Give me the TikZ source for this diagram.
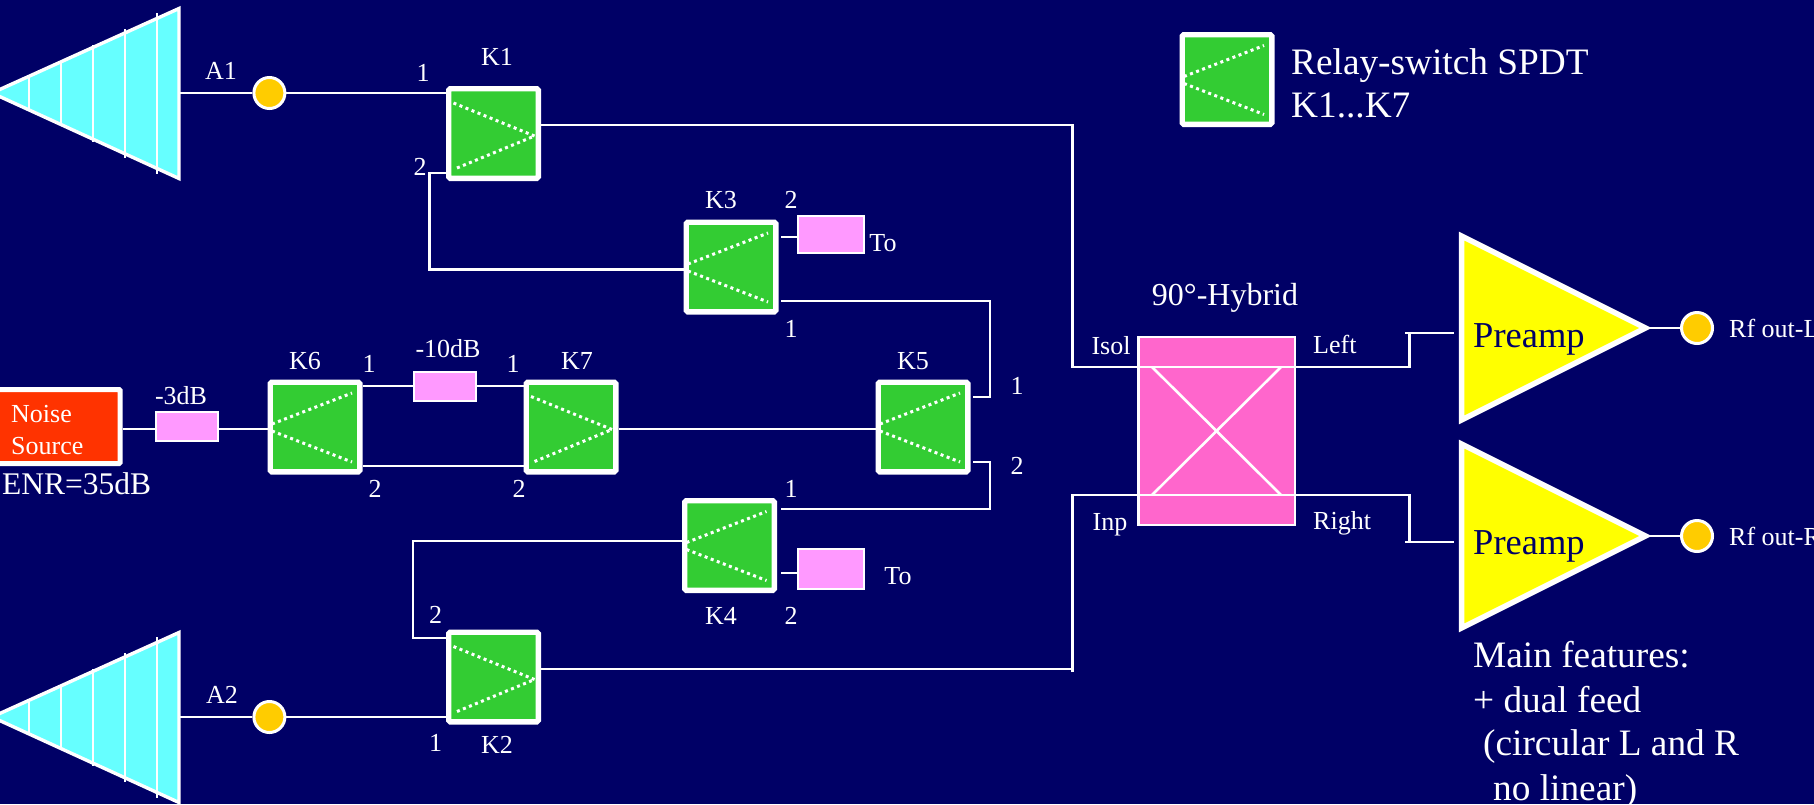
\documentclass[tikz,border=0pt]{standalone}
\usepackage{fontspec}
\setmainfont{Liberation Serif}
\usetikzlibrary{calc}
\definecolor{bgnavy}{RGB}{0,0,102}
\definecolor{swgreen}{RGB}{51,204,51}
\definecolor{attpink}{RGB}{255,153,255}
\definecolor{hybpink}{RGB}{255,102,204}
\definecolor{horncyan}{RGB}{102,255,255}
\definecolor{portgold}{RGB}{255,204,0}
\definecolor{noisered}{RGB}{255,51,0}
\definecolor{ampyellow}{RGB}{255,255,0}
\newcommand{\fsS}{\fontsize{26}{30}\selectfont}
\newcommand{\fsM}{\fontsize{31.5}{36}\selectfont}
\newcommand{\fsH}{\fontsize{32}{40}\selectfont}
\newcommand{\fsP}{\fontsize{36.5}{43}\selectfont}
\newcommand{\fsL}{\fontsize{37.3}{44}\selectfont}
% relay switch: name, centre
\newcommand{\swleft}[2]{%
  \node[relaybox] (#1) at (#2) {};
  \draw[relaydots] ($(#1.center)+(-43,-3)$) -- ($(#1.center)+(37,-34)$);
  \draw[relaydots] ($(#1.center)+(-43,4)$) -- ($(#1.center)+(37,35)$);
}
\newcommand{\swright}[2]{%
  \node[relaybox] (#1) at (#2) {};
  \draw[relaydots] ($(#1.center)+(-40,-30.5)$) -- ($(#1.center)+(41,2.5)$);
  \draw[relaydots] ($(#1.center)+(-36.5,34.5)$) -- ($(#1.center)+(41,2.5)$);
}
% horn antenna: vertical offset
\newcommand{\horn}[1]{%
  \begin{scope}[yshift=-#1pt]
    \draw[hornline,fill=horncyan,line join=miter] (-8,93) -- (179,8.5) -- (179,178.5) -- cycle;
    \draw[hornrib] (29,76) -- (29,110);
    \draw[hornrib] (61,62) -- (61,126);
    \draw[hornrib] (93,45) -- (93,142);
    \draw[hornrib] (125,29) -- (125,158);
    \draw[hornrib] (157,13) -- (157,174);
  \end{scope}
}
\tikzset{
  x=1pt,y=-1pt,
  wire/.style={draw=white,line width=2.6pt,line cap=butt,line join=miter},
  relaybox/.style={draw=white,fill=swgreen,line width=5.4pt,minimum size=89.6pt,inner sep=0pt,rounded corners=1.5pt},
  relaydots/.style={white,line width=3pt,dash pattern=on 3pt off 3.5pt},
  attbox/.style={draw=white,fill=attpink,line width=2.6pt,inner sep=0pt},
  port/.style={circle,draw=white,fill=portgold,line width=3pt,minimum size=31pt,inner sep=0pt},
  hornline/.style={draw=white,line width=3.4pt},
  hornrib/.style={white,line width=2.6pt},
  amp/.style={draw=white,fill=ampyellow,line width=5.5pt,line join=miter},
  lab/.style={text=white,anchor=base,inner sep=0pt,font=\fsS},
  labl/.style={text=white,anchor=base west,inner sep=0pt,font=\fsS},
}
\begin{document}
\begin{tikzpicture}
\useasboundingbox (0,0) rectangle (1814,804);
\clip (0,0) rectangle (1814,804);
\fill[bgnavy] (0,0) rectangle (1814,804);

% antennas
\horn{0}
\horn{624}
\coordinate (h1) at (180,93);
\coordinate (h2) at (180,717);

% ports
\node[port] (c1) at (269.4,93) {};
\node[port] (c2) at (269.4,717) {};

% relay switches
\swright{k1}{493.5,133.5}
\swright{k2}{493.5,677}
\swleft{k3}{731,267}
\swleft{k4}{729.5,545.5}
\swleft{k5}{923,427}
\swleft{k6}{315,427}
\swright{k7}{571,427}
\swleft{kleg}{1227,79.5}

% attenuators
\node[attbox,minimum width=62pt,minimum height=29pt] (a3) at (187,426.5) {};
\node[attbox,minimum width=62pt,minimum height=29pt] (a10) at (445,386.5) {};
\node[attbox,minimum width=66pt,minimum height=37pt] (to1) at (831,234.5) {};
\node[attbox,minimum width=66pt,minimum height=40pt] (to2) at (831,569) {};

% noise source
\node[draw=white,fill=noisered,line width=5pt,minimum width=124pt,minimum height=74pt,inner sep=0pt,rounded corners=1pt] (ns) at (58,426.5) {};
\node[labl] (nst1) at (11,422) {Noise};
\node[labl] (nst2) at (11,454) {Source};

% hybrid
\node[draw=white,fill=hybpink,line width=2.6pt,minimum width=156.5pt,minimum height=188pt,inner sep=0pt] (hyb) at (1216.8,431) {};
\coordinate (xa) at (1152,367);
\coordinate (xb) at (1281,367);
\coordinate (xc) at (1152,495);
\coordinate (xd) at (1281,495);
\draw[wire] (xa) -- (xd);
\draw[wire] (xb) -- (xc);

% preamps
\draw[amp] (1461.5,236) coordinate (p1t) -- (1645.5,328) coordinate (p1o) -- (1461.5,420) -- cycle;
\draw[amp] (1461.5,444) coordinate (p2t) -- (1645.5,536) coordinate (p2o) -- (1461.5,628) -- cycle;
\node[text=bgnavy,anchor=base west,inner sep=0pt,font=\fsP] (p1l) at (1473,347) {Preamp};
\node[text=bgnavy,anchor=base west,inner sep=0pt,font=\fsP] (p2l) at (1473,554) {Preamp};
\node[port] (c3) at (1697,328) {};
\node[port] (c4) at (1697,536) {};

% wire junction points
\coordinate (j1a) at (1072.5,125);
\coordinate (j1b) at (1072.5,367);
\coordinate (j2a) at (1072.5,672);
\coordinate (j2b) at (1072.5,495);
\coordinate (k1s) at (446,173);
\coordinate (k1k) at (429.5,173);
\coordinate (k1m) at (429.5,269.5);
\coordinate (k2s) at (446,638);
\coordinate (k2k) at (413,638);
\coordinate (k3a) at (781,301);
\coordinate (k3s) at (781,237);
\coordinate (k4a) at (781,509);
\coordinate (k4s) at (781,573);
\coordinate (k5a) at (973,397);
\coordinate (k5b) at (973,462);
\coordinate (k3k) at (990,301);
\coordinate (k5k) at (990,397);
\coordinate (k5l) at (990,462);
\coordinate (k4k) at (990,509);
\coordinate (lo) at (1409.5,367);
\coordinate (lu) at (1409.5,333);
\coordinate (ls) at (1405,333);
\coordinate (le) at (1454,333);
\coordinate (ro) at (1409.5,495);
\coordinate (ru) at (1409.5,542);
\coordinate (rs) at (1405,542);
\coordinate (re) at (1454,542);

% connectors
\draw[wire] (h1) -- (c1);
\draw[wire] (c1) -- (k1.west |- c1);
\draw[wire] (h2) -- (c2);
\draw[wire] (c2) -- (k2.west |- c2);
\draw[wire] (k1.east |- j1a) -- (j1a) -- (j1b) -- (lo) -- (lu);
\draw[wire] (ls) -- (le);
\draw[wire] (k2.east |- 0,669) -- (j2a |- 0,669);
\draw[wire] (j2a) -- (j2b) -- (ro) -- (ru);
\draw[wire] (rs) -- (re);
\draw[wire] (k1s) -- (k1k) -- (k1m) -- (k3.west |- k1m);
\draw[wire] (k2s) -- (k2k) -- (k2k |- 0,541) -- (k4.west |- 0,541);
\draw[wire] (k3s) -- (to1.west |- k3s);
\draw[wire] (k4s) -- (to2.west |- k4s);
\draw[wire] (k3a) -- (k3k) -- (k5k) -- (k5a);
\draw[wire] (k5b) -- (k5l) -- (k4k) -- (k4a);
\draw[wire] (ns.east |- 0,429) -- (a3.west |- 0,429);
\draw[wire] (a3.east |- 0,429) -- (k6.west |- 0,429);
\draw[wire] (k6.east |- 0,386) -- (a10.west |- 0,386);
\draw[wire] (a10.east |- 0,386) -- (k7.west |- 0,386);
\draw[wire] (k6.east |- 0,466) -- (k7.west |- 0,466);
\draw[wire] (k7.east |- 0,429) -- (k5.west |- 0,429);
\draw[wire] (p1o) -- (c3);
\draw[wire] (p2o) -- (c4);

% labels
\node[lab] (la1) at (221,79) {A1};
\node[lab] (la2) at (222,703) {A2};
\node[lab] (lk1) at (497,65) {K1};
\node[lab] (lk1a) at (423,81) {1};
\node[lab] (lk1b) at (420,175) {2};
\node[lab] (lk2) at (497,753) {K2};
\node[lab] (lk2a) at (435.5,751) {1};
\node[lab] (lk2b) at (435.5,623) {2};
\node[lab] (lk3) at (721,208) {K3};
\node[lab] (lk3b) at (791,208) {2};
\node[lab] (lk3a) at (791,337) {1};
\node[lab] (lto1) at (883,251) {To};
\node[lab] (lk4) at (721,624) {K4};
\node[lab] (lk4b) at (791,624) {2};
\node[lab] (lk4a) at (791,497) {1};
\node[lab] (lto2) at (898,584) {To};
\node[lab] (lk5) at (913,369) {K5};
\node[lab] (lk5a) at (1017,394) {1};
\node[lab] (lk5b) at (1017,474) {2};
\node[lab] (lk6) at (305,369) {K6};
\node[lab] (lk6a) at (369,372) {1};
\node[lab] (lk6b) at (375,497) {2};
\node[lab] (lk7) at (577,369) {K7};
\node[lab] (lk7a) at (513,372) {1};
\node[lab] (lk7b) at (519,497) {2};
\node[lab] (l3db) at (181,404) {-3dB};
\node[lab] (l10db) at (448,357) {-10dB};
\node[labl,font=\fsM] (lenr) at (2,494) {ENR=35dB};
\node[lab,font=\fsH] (lhyb) at (1225,305) {90°-Hybrid};
\node[lab] (lisol) at (1111,354) {Isol};
\node[lab] (linp) at (1110,530) {Inp};
\node[labl] (lleft) at (1313,353) {Left};
\node[labl] (lright) at (1313,529) {Right};
\node[labl] (lo1) at (1729,337) {Rf out-L};
\node[labl] (lo2) at (1729,545) {Rf out-R};
\node[labl,font=\fsL] (lg1) at (1291,74) {Relay-switch SPDT};
\node[labl,font=\fsL] (lg2) at (1291,117) {K1...K7};
\node[labl,font=\fsL] (mf1) at (1473,667) {Main features:};
\node[labl,font=\fsL] (mf2) at (1473,712) {+ dual feed};
\node[labl,font=\fsL] (mf3) at (1483,755) {(circular L and R};
\node[labl,font=\fsL] (mf4) at (1493,800) {no linear)};
\end{tikzpicture}
\end{document}
